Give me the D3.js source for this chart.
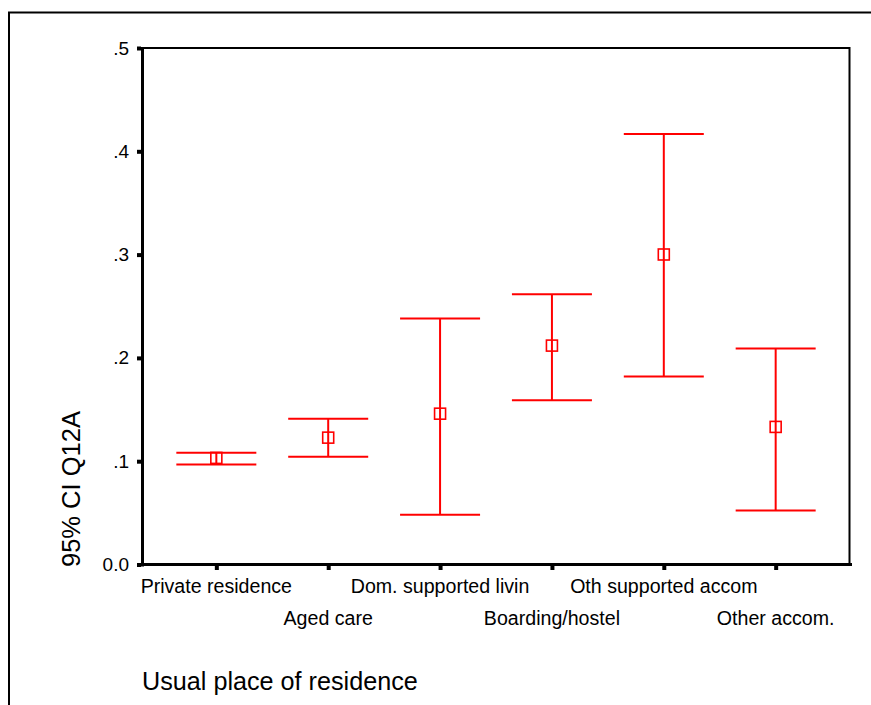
<!DOCTYPE html>
<html>
<head>
<meta charset="utf-8">
<script src="https://cdn.jsdelivr.net/npm/d3@7"></script>
<style>
  body { margin: 0; background: #fff; }
  svg { display: block; font-family: Arial, "Liberation Sans", sans-serif; }
</style>
</head>
<body>
<svg></svg>
<script>
// chart data
const categories = ['Private residence', 'Aged care', 'Dom. supported livin', 'Boarding/hostel', 'Oth supported accom', 'Other accom.']
const means = [0.1032, 0.1228, 0.146, 0.2119, 0.3001, 0.1332]
const lower = [0.0969, 0.1044, 0.0482, 0.1589, 0.1819, 0.0523]
const upper = [0.1082, 0.1412, 0.2381, 0.2616, 0.4167, 0.209]
const yTicks = [0, 0.1, 0.2, 0.3, 0.4, 0.5]
const yTickLabels = ['0.0', '.1', '.2', '.3', '.4', '.5']

const width = 871
const height = 705
const plotLeft = 142.5
const plotRight = 849.5
const plotTop = 48
const plotBottom = 564.5
const capHalf = 40
const boxSize = 11
const red = '#ff0000'

const svg = d3.select('svg')
              .attr('width', width)
              .attr('height', height)

// outer frame (cut off at right and bottom)
svg.append('path')
   .attr('d', `M9,${height} V12.5 H${width}`)
   .attr('fill', 'none')
   .attr('stroke', '#000')
   .attr('stroke-width', 2)

const xScale = d3.scalePoint()
                 .domain(categories)
                 .range([plotLeft, plotRight])
                 .padding(0.66)

const yScale = d3.scaleLinear()
                 .domain([0, 0.5])
                 .range([plotBottom, plotTop])

// plot box: thin top/right, thick left/bottom
svg.append('path')
   .attr('d', `M${plotLeft},${plotTop} H${plotRight} V${plotBottom}`)
   .attr('fill', 'none')
   .attr('stroke', '#000')
   .attr('stroke-width', 2)

const yAxis = d3.axisLeft(yScale)
                .tickValues(yTicks)
                .tickFormat((d, i) => yTickLabels[i])
                .tickSizeInner(4)
                .tickSizeOuter(0)
                .tickPadding(8)

const yg = svg.append('g')
   .attr('transform', `translate(${plotLeft - 1.5}, 0)`)
   .call(yAxis)
yg.select('.domain').remove()
yg.selectAll('.tick line').attr('stroke-width', 4)
yg.selectAll('.tick text')
  .attr('font-size', 19)
  .attr('font-family', 'Arial, "Liberation Sans", sans-serif')
  .attr('fill', '#000')

const xAxis = d3.axisBottom(xScale)
                .tickSizeInner(4)
                .tickSizeOuter(0)
                .tickFormat('')

const xg = svg.append('g')
   .attr('transform', `translate(0, ${plotBottom + 1.5})`)
   .call(xAxis)
xg.select('.domain').remove()
xg.selectAll('.tick line').attr('stroke-width', 4)

// staggered category labels
svg.append('g')
   .selectAll('text')
   .data(categories)
   .join('text')
   .attr('x', d => xScale(d))
   .attr('y', (d, i) => i % 2 === 0 ? 593 : 625)
   .attr('text-anchor', 'middle')
   .attr('font-size', 19.6)
   .attr('fill', '#000')
   .text(d => d)

// thick axis lines
svg.append('line')
   .attr('x1', plotLeft).attr('x2', plotLeft)
   .attr('y1', plotTop - 1).attr('y2', plotBottom + 2)
   .attr('stroke', '#000')
   .attr('stroke-width', 3)
svg.append('line')
   .attr('x1', plotLeft - 1.5).attr('x2', plotRight + 2.5)
   .attr('y1', plotBottom).attr('y2', plotBottom)
   .attr('stroke', '#000')
   .attr('stroke-width', 3)

// error bars
const bars = svg.append('g')
                .selectAll('g.bar')
                .data(categories)
                .join('g')
                .classed('bar', true)

bars.append('line')
    .attr('x1', d => xScale(d)).attr('x2', d => xScale(d))
    .attr('y1', (d, i) => yScale(upper[i]))
    .attr('y2', (d, i) => yScale(lower[i]))
    .attr('stroke', red)
    .attr('stroke-width', 2)

bars.append('line')
    .attr('x1', d => xScale(d) - capHalf).attr('x2', d => xScale(d) + capHalf)
    .attr('y1', (d, i) => yScale(upper[i])).attr('y2', (d, i) => yScale(upper[i]))
    .attr('stroke', red)
    .attr('stroke-width', 2)

bars.append('line')
    .attr('x1', d => xScale(d) - capHalf).attr('x2', d => xScale(d) + capHalf)
    .attr('y1', (d, i) => yScale(lower[i])).attr('y2', (d, i) => yScale(lower[i]))
    .attr('stroke', red)
    .attr('stroke-width', 2)

bars.append('rect')
    .attr('x', d => xScale(d) - boxSize / 2)
    .attr('y', (d, i) => yScale(means[i]) - boxSize / 2)
    .attr('width', boxSize)
    .attr('height', boxSize)
    .attr('fill', 'none')
    .attr('stroke', red)
    .attr('stroke-width', 1.6)

// axis titles
svg.append('text')
   .text('95% CI Q12A')
   .attr('transform', `translate(80, 567)rotate(-90)`)
   .attr('font-size', 25.5)
   .attr('fill', '#000')

svg.append('text')
   .text('Usual place of residence')
   .attr('x', 142)
   .attr('y', 690)
   .attr('font-size', 25.2)
   .attr('fill', '#000')
</script>
</body>
</html>
